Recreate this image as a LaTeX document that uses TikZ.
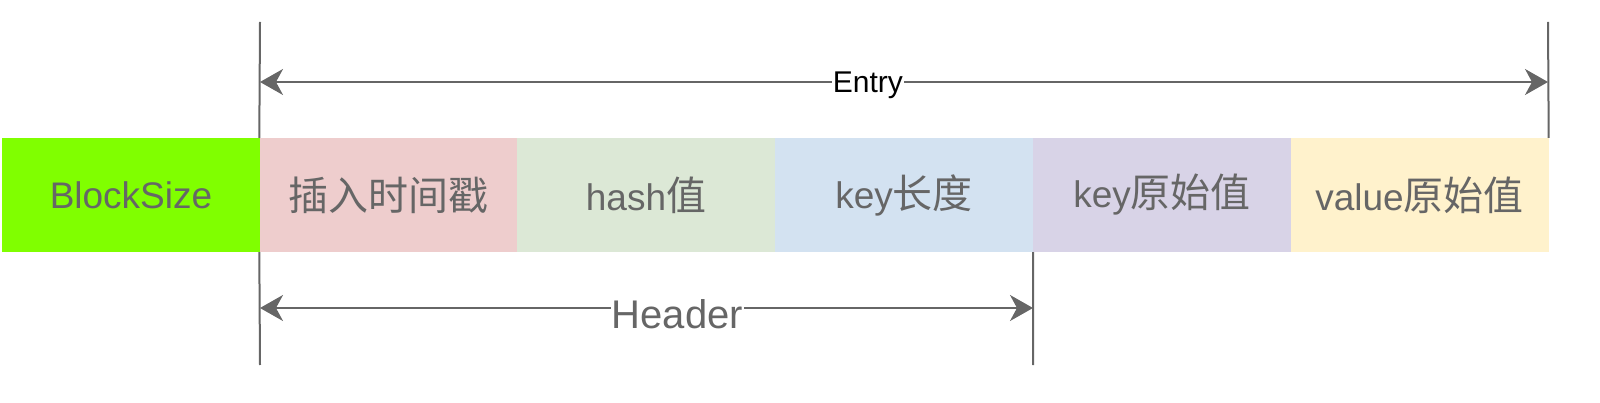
\documentclass[tikz,border=0pt]{standalone}
\usepackage{fontspec}
\setmainfont{Liberation Sans}
\newfontfamily\cjk{Noto Sans CJK SC}[Scale=1.08]
\usetikzlibrary{arrows.meta}
\definecolor{txtgray}{HTML}{666666}
\definecolor{cgreen}{HTML}{80FF00}
\definecolor{cpink}{HTML}{EECDCD}
\definecolor{clgreen}{HTML}{DCE8D6}
\definecolor{cblue}{HTML}{D3E2F1}
\definecolor{cpurple}{HTML}{D8D3E7}
\definecolor{cyellow}{HTML}{FFF2CC}
\tikzset{
  cell/.style={rectangle, draw=none, minimum width=258pt, minimum height=114pt, inner sep=0pt,
    text=txtgray, font=\fontsize{37}{40}\selectfont},
  tick/.style={draw=txtgray, line width=2pt},
  dim/.style={draw=txtgray, line width=2pt, {Stealth[length=23pt,width=26pt,inset=7pt]}-{Stealth[length=23pt,width=26pt,inset=7pt]}},
  dimlabel/.style={fill=white, inner sep=1pt}
}
\begin{document}
\begin{tikzpicture}[x=1pt,y=-1pt]
\useasboundingbox (0,0) rectangle (1600,403);
\node[cell, fill=cgreen] (bs) at (131,195) {BlockSize};
\node[cell, fill=cpink] (ts) at (388.5,195) {\cjk 插入时间戳};
\node[cell, fill=clgreen] (hv) at (646,195) {hash\cjk 值};
\node[cell, fill=cblue] (kl) at (904,195) {key\cjk 长度};
\node[cell, fill=cpurple] (kv) at (1162,195) {key\cjk 原始值};
\node[cell, fill=cyellow] (vv) at (1419.5,195) {value\cjk 原始值};

\coordinate (etl) at (260,22);
\coordinate (etr) at (1548,22);
\coordinate (eal) at (260,82);
\coordinate (ear) at (1548,82);
\coordinate (hbl) at (260,365);
\coordinate (hbr) at (1033,365);
\coordinate (hal) at (260,308);
\coordinate (har) at (1033,308);

\draw[tick] (etl) -- (ts.north west);
\draw[tick] (etr) -- (vv.north east);
\draw[tick] (ts.south west) -- (hbl);
\draw[tick] (kl.south east) -- (hbr);

\draw[dim] (eal) -- (ear) node[pos=0.472, dimlabel, yshift=-3pt, font=\fontsize{30}{32}\selectfont, text=black] (entry) {Entry};
\draw[dim] (hal) -- (har) node[pos=0.54, dimlabel, yshift=-6pt, font=\fontsize{40}{42}\selectfont, text=txtgray] (header) {Header};
\end{tikzpicture}
\end{document}
